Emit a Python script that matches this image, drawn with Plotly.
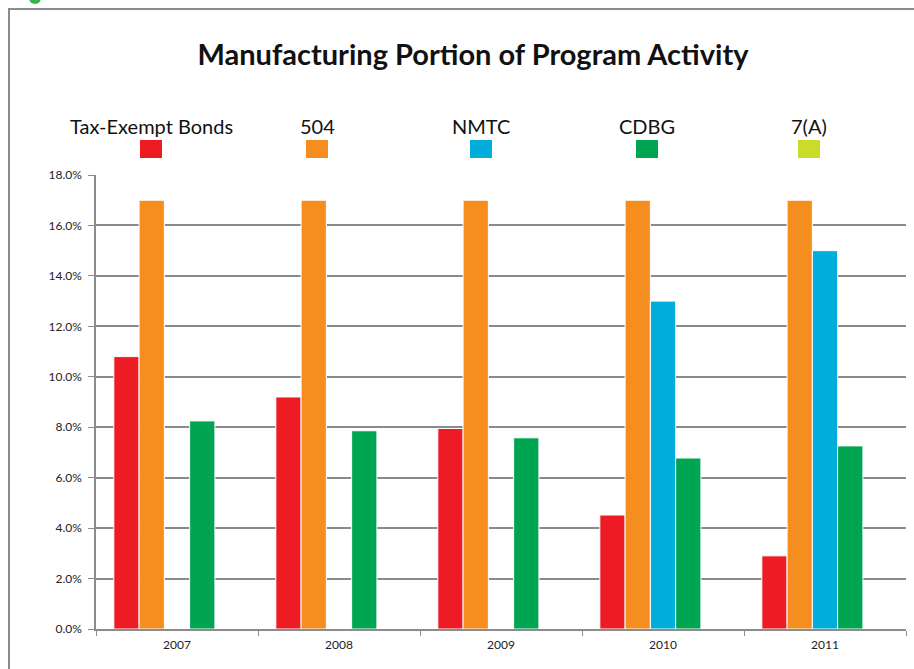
import plotly.graph_objects as go

years = ["2007", "2008", "2009", "2010", "2011"]
series_names = ["Tax-Exempt Bonds", "504", "NMTC", "CDBG", "7(A)"]
tax_exempt = [0.108, 0.092, 0.0795, 0.0452, 0.029]
sba_504 = [0.170, 0.170, 0.170, 0.170, 0.170]
nmtc = [0.0, 0.0, 0.0, 0.130, 0.150]
cdbg = [0.0825, 0.0786, 0.0758, 0.0678, 0.0726]
sba_7a = [0.0, 0.0, 0.0, 0.0, 0.0]
colors = ["#ED1C24", "#F68E1F", "#00ADDB", "#00A551", "#CADB2A"]
values = [tax_exempt, sba_504, nmtc, cdbg, sba_7a]

W, H = 914, 669
L, R, T, B = 96, 8, 175, 40
pw, ph = W - L - R, H - T - B
FONT = "Lato, 'Open Sans', sans-serif"


def px(x):
    return (x - L) / pw


def py(y):
    return (H - B - y) / ph


fig = go.Figure()
for name, vals, col in zip(series_names, values, colors):
    fig.add_trace(go.Bar(
        x=years, y=vals, name=name,
        marker=dict(color=col, line=dict(color="white", width=1)),
        showlegend=False,
    ))

shapes = []
annotations = []
# outer frame
shapes.append(dict(type="rect", xref="paper", yref="paper",
                   x0=px(9), x1=px(960), y0=py(9), y1=py(720),
                   line=dict(color="#8c8c8c", width=2), fillcolor="rgba(0,0,0,0)",
                   layer="below"))
# small green dot at the top-left corner
shapes.append(dict(type="circle", xref="paper", yref="paper",
                   x0=px(29), x1=px(41), y0=py(-8), y1=py(4),
                   line=dict(width=0), fillcolor="#3cb44a"))

# custom legend: label above a coloured square
leg_x = [151, 317, 481, 647, 809]
for name, col, cx in zip(series_names, colors, leg_x):
    annotations.append(dict(xref="paper", yref="paper", x=px(cx), y=py(126),
                            text=name, showarrow=False, xanchor="center", yanchor="middle",
                            font=dict(family=FONT, size=20, color="#111")))
    shapes.append(dict(type="rect", xref="paper", yref="paper",
                       x0=px(cx - 11), x1=px(cx + 11), y0=py(158), y1=py(140),
                       line=dict(width=0), fillcolor=col))

fig.update_layout(
    width=W, height=H,
    margin=dict(l=L, r=R, t=T, b=B, pad=0),
    paper_bgcolor="white", plot_bgcolor="white",
    barmode="group", bargap=0.22, bargroupgap=0,
    title=dict(text="<b>Manufacturing Portion of Program Activity</b>",
               xref="container", yref="container",
               x=473 / W, y=1 - 55 / H, xanchor="center", yanchor="middle",
               font=dict(family=FONT, size=29, color="#111")),
    font=dict(family=FONT, color="#222"),
    shapes=shapes, annotations=annotations,
    xaxis=dict(type="category", showgrid=False, showline=True, linecolor="#8c8c8c", linewidth=1.5,
               ticks="outside", tickson="boundaries", ticklen=5, tickcolor="#8c8c8c",
               tickfont=dict(size=12, color="#222"), ticklabelstandoff=4),
    yaxis=dict(range=[0, 0.18], dtick=0.02, tickformat=".1%", showgrid=True,
               gridcolor="#8a8a8a", gridwidth=1.5, showline=True, linecolor="#8c8c8c", linewidth=1.5,
               ticks="outside", ticklen=6, tickcolor="#8c8c8c",
               tickfont=dict(size=12, color="#222"), zeroline=False, ticklabelstandoff=4),
)

fig.write_html("out.html")
